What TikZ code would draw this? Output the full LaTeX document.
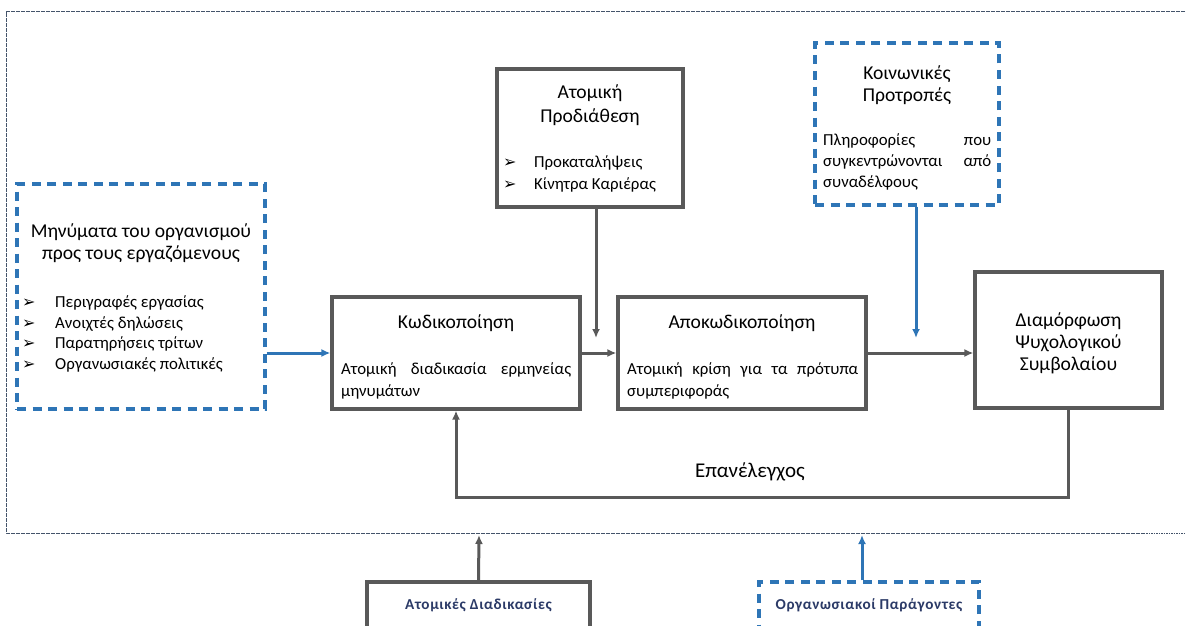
\documentclass[tikz,border=0pt]{standalone}
\usepackage{fontspec}
\setmainfont{Carlito}
\newfontfamily\dv{DejaVu Sans}
\usetikzlibrary{arrows.meta}
\definecolor{gline}{HTML}{595959}
\definecolor{bline}{HTML}{2E75B6}
\definecolor{frame}{HTML}{44546A}
\definecolor{navy}{HTML}{2B3A67}
\newcommand{\ttl}{\fontsize{19.6}{22}\selectfont}
\newcommand{\bdy}{\fontsize{16.8}{20}\selectfont}
\newcommand{\blt}{{\dv\fontsize{16}{16}\selectfont ➢}}
\newcommand{\btm}{\fontsize{15.2}{16}\bfseries\addfontfeatures{LetterSpace=4}\selectfont}
\begin{document}
\begin{tikzpicture}[x=1pt,y=-1pt,
  graybox/.style={draw=gline, line width=3.2pt, fill=white, inner sep=0pt},
  bluebox/.style={draw=bline, line width=3.2pt, dash pattern=on 9pt off 6.5pt, fill=white, inner sep=0pt},
  garrow/.style={draw=gline, line width=3pt, -{Latex[length=9pt,width=8pt]}},
  barrow/.style={draw=bline, line width=3pt, -{Latex[length=9pt,width=8pt]}},
  tx/.style={inner sep=0pt, anchor=base, text=black},
  txl/.style={inner sep=0pt, anchor=base west, text=black},
  bl/.style={inner sep=0pt, anchor=base west}]
\useasboundingbox (0,0) rectangle (1186,626);
% outer frame
\draw[frame, line width=1pt, dash pattern=on 1.6pt off 0.9pt] (1200,12) -- (6,12) -- (6,533) -- (1200,533);
\coordinate (fa) at (479,535);
\coordinate (fb) at (862,535);

% boxes
\node[bluebox, minimum width=248pt, minimum height=225pt] (msg) at (141,296.5) {};
\node[graybox, minimum width=248pt, minimum height=112pt] (kod) at (456,353) {};
\node[graybox, minimum width=248pt, minimum height=112pt] (apo) at (742,353) {};
\node[graybox, minimum width=186pt, minimum height=138pt] (pro) at (590,138) {};
\node[bluebox, minimum width=184pt, minimum height=162pt] (koi) at (907,124) {};
\node[graybox, minimum width=187pt, minimum height=136pt] (dia) at (1068.5,340) {};
\node[graybox, minimum width=223pt, minimum height=60pt] (atd) at (478.5,612) {};
\node[bluebox, minimum width=220pt, minimum height=60pt] (org) at (869,612) {};

% texts: messages
\node[tx] (m1) at (141,237) {\ttl Μηνύματα του οργανισμού};
\node[tx] (m2) at (141,259) {\ttl προς τους εργαζόμενους};
\node[bl] (mb1) at (22,307) {\blt};
\node[txl] (mt1) at (55,307) {\bdy Περιγραφές εργασίας};
\node[bl] (mb2) at (22,328) {\blt};
\node[txl] (mt2) at (55,328) {\bdy Ανοιχτές δηλώσεις};
\node[bl] (mb3) at (22,348) {\blt};
\node[txl] (mt3) at (55,348) {\bdy Παρατηρήσεις τρίτων};
\node[bl] (mb4) at (22,369) {\blt};
\node[txl] (mt4) at (55,369) {\bdy Οργανωσιακές πολιτικές};

% kod
\node[tx] (k1) at (456,328) {\ttl Κωδικοποίηση};
\node[txl] (k2) at (341,374) {\bdy\hbox to 230pt{Ατομική\hfil διαδικασία\hfil ερμηνείας}};
\node[txl] (k3) at (341,396) {\bdy μηνυμάτων};

% apo
\node[tx] (a1) at (742,328) {\ttl Αποκωδικοποίηση};
\node[txl] (a2) at (627,374) {\bdy\hbox to 231pt{Ατομική\hfil κρίση\hfil για\hfil τα\hfil πρότυπα}};
\node[txl] (a3) at (627,396) {\bdy συμπεριφοράς};

% pro
\node[tx] (p1) at (590,99) {\ttl Ατομική};
\node[tx] (p2) at (590,122) {\ttl Προδιάθεση};
\node[bl] (pb1) at (503,167) {\blt};
\node[txl] (pt1) at (534,167) {\bdy Προκαταλήψεις};
\node[bl] (pb2) at (503,189) {\blt};
\node[txl] (pt2) at (534,189) {\bdy Κίνητρα Καριέρας};

% koi
\node[tx] (c1) at (907,79) {\ttl Κοινωνικές};
\node[tx] (c2) at (907,101) {\ttl Προτροπές};
\node[txl] (c3) at (823,145) {\bdy\hbox to 168pt{Πληροφορίες\hfil που}};
\node[txl] (c4) at (823,166) {\bdy\hbox to 168pt{συγκεντρώνονται\hfil από}};
\node[txl] (c5) at (823,187) {\bdy συναδέλφους};

% dia
\node[tx] (d1) at (1068.5,326) {\ttl Διαμόρφωση};
\node[tx] (d2) at (1068.5,348) {\ttl Ψυχολογικού};
\node[tx] (d3) at (1068.5,370) {\ttl Συμβολαίου};

% bottom
\node[tx, text=navy] (t1) at (478.5,609) {\btm Ατομικές Διαδικασίες};
\node[tx, text=navy] (t2) at (869,609) {\btm Οργανωσιακοί Παράγοντες};

% feedback label
\node[tx] (fbl) at (750,477) {\fontsize{21}{24}\selectfont Επανέλεγχος};

% connectors
\draw[barrow] (msg.east |- kod.west) -- (kod.west);
\draw[garrow] (kod.east) -- (apo.west);
\draw[garrow] (apo.east) -- (dia.west |- apo.east);
\coordinate (pd) at (596,338);
\draw[garrow] (pro.south -| pd) -- (pd);
\coordinate (kd) at (916,338);
\draw[barrow] (koi.south -| kd) -- (kd);
\draw[garrow] (dia.south) -- ++(0,88) -| (kod.south);
\draw[garrow] (atd.north) -- (fa);
\draw[barrow] (org.north -| fb) -- (fb);
\end{tikzpicture}
\end{document}
